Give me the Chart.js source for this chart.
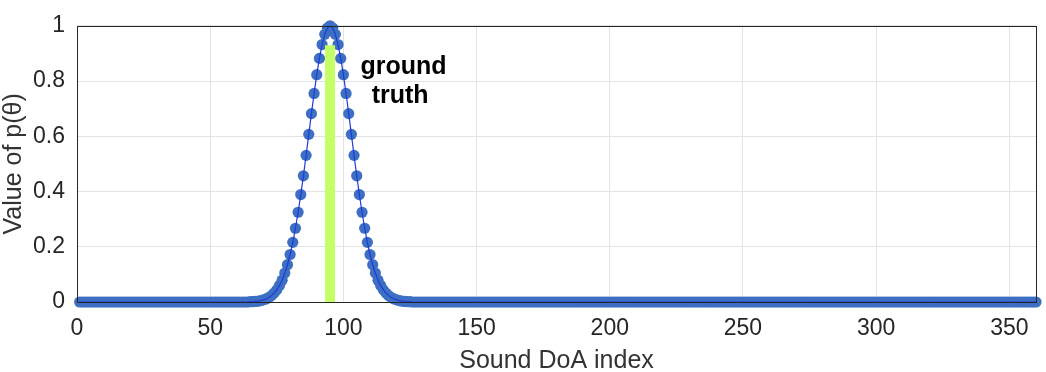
<!DOCTYPE html>
<html>
<head>
<meta charset="utf-8">
<script src="https://cdn.jsdelivr.net/npm/chart.js@4"></script>
<style>
  html, body { margin: 0; padding: 0; background: #fff; }
  #wrap { width: 1046px; height: 372px; }
</style>
</head>
<body>
<div id="wrap"><canvas id="doaChart"></canvas></div>
<script>
// Sound DoA index 1..360, peak near 95
const firstIndex = 1;
const lastIndex = 360;
const peakStart = 65;      // index of first value in peakValues
const peakValues = [
  0.001, 0.001, 0.002, 0.003, 0.005, 0.008, 0.011, 0.016, 0.023, 0.032,
  0.044, 0.060, 0.079, 0.105, 0.135, 0.172, 0.216, 0.267, 0.325, 0.389,
  0.457, 0.531, 0.607, 0.682, 0.755, 0.823, 0.882, 0.932, 0.969, 0.992,
  1.000,
  0.992, 0.969, 0.932, 0.882, 0.823, 0.755, 0.682, 0.607, 0.531, 0.457,
  0.389, 0.325, 0.267, 0.216, 0.172, 0.135, 0.105, 0.079, 0.060, 0.044,
  0.032, 0.023, 0.016, 0.011, 0.008, 0.005, 0.003, 0.002, 0.001, 0.001
];
const groundTruthIndex = 95;
const groundTruthHeight = 0.93;
const xTicks = [0, 50, 100, 150, 200, 250, 300, 350];
const yTicks = [0, 0.2, 0.4, 0.6, 0.8, 1];

// the flat tails are zero
const pValues = [
  ...Array(peakStart - firstIndex).fill(0),
  ...peakValues,
  ...Array(lastIndex - (peakStart + peakValues.length - 1)).fill(0)
];
const doaPoints = pValues.map((v, i) => ({ x: firstIndex + i, y: v }));

const boxPlugin = {
  id: 'boxAndLabel',
  afterDatasetsDraw(chart) {
    const { ctx, chartArea: a, scales } = chart;
    ctx.save();
    ctx.strokeStyle = '#262626';
    ctx.lineWidth = 1;
    ctx.strokeRect(Math.round(a.left) + 0.5, Math.round(a.top) + 0.5,
      Math.round(a.right - a.left), Math.round(a.bottom - a.top));
    // annotation text
    ctx.fillStyle = '#000';
    ctx.font = 'bold 25px "Liberation Sans", Arial, sans-serif';
    ctx.textAlign = 'center';
    ctx.textBaseline = 'alphabetic';
    ctx.fillText('ground', scales.x.getPixelForValue(122.6), scales.y.getPixelForValue(0.825));
    ctx.fillText('truth', scales.x.getPixelForValue(121.3), scales.y.getPixelForValue(0.72));
    ctx.restore();
  }
};

const tickFont = { family: '"Liberation Sans", Arial, sans-serif', size: 23 };
const titleFont = { family: '"Liberation Sans", Arial, sans-serif', size: 25, lineHeight: 0.85 };

new Chart(document.getElementById('doaChart'), {
  type: 'line',
  data: {
    datasets: [
      {
        label: 'ground truth',
        data: [{ x: groundTruthIndex, y: 0 }, { x: groundTruthIndex, y: groundTruthHeight }],
        borderColor: 'rgb(197, 255, 102)',
        borderWidth: 10,
        borderCapStyle: 'butt',
        pointRadius: 0,
        order: 0
      },
      {
        label: 'p line',
        data: doaPoints,
        borderColor: '#1f3ad8',
        borderWidth: 1.2,
        pointRadius: 0,
        tension: 0,
        order: 1
      },
      {
        label: 'p(theta)',
        data: doaPoints,
        showLine: false,
        pointRadius: 5.6,
        pointBorderWidth: 0,
        pointBackgroundColor: '#3d6fc3',
        clip: false,
        order: 2
      }
    ]
  },
  options: {
    responsive: true,
    maintainAspectRatio: false,
    animation: false,
    layout: { padding: { top: 24, right: 10, left: 0, bottom: 0 } },
    plugins: { legend: { display: false }, tooltip: { enabled: false } },
    scales: {
      x: {
        type: 'linear',
        min: 0,
        max: 360,
        afterFit(scale) { scale.height = 70; },
        afterBuildTicks(scale) { scale.ticks = xTicks.map(v => ({ value: v })); },
        grid: { color: '#e3e3e3', drawTicks: false, tickLength: 0 },
        border: { display: false },
        ticks: { font: tickFont, color: '#262626', padding: 13, maxRotation: 0, autoSkip: false },
        title: { display: true, text: 'Sound DoA index', font: titleFont, color: '#333', padding: { top: 0, bottom: 0 } }
      },
      y: {
        min: 0,
        max: 1,
        afterFit(scale) { scale.width = 77; },
        afterBuildTicks(scale) { scale.ticks = yTicks.map(v => ({ value: v })); },
        grid: { color: '#e3e3e3', drawTicks: false, tickLength: 0 },
        border: { display: false },
        ticks: { font: tickFont, color: '#262626', padding: 12, callback: v => String(v) },
        title: { display: true, text: 'Value of p(θ)', font: titleFont, color: '#333', padding: { top: 3, bottom: 0 } }
      }
    }
  },
  plugins: [boxPlugin]
});
</script>
</body>
</html>
